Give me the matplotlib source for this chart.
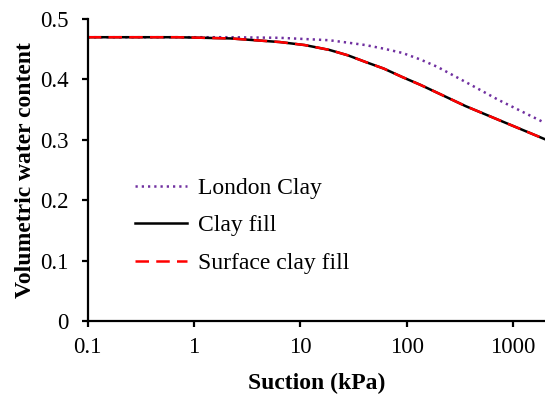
import matplotlib.pyplot as plt
from matplotlib.ticker import FixedLocator, FixedFormatter

plt.rcParams['font.family'] = ['Liberation Serif', 'DejaVu Serif']

# suction (kPa) and volumetric water content
suction = [0.1, 0.7, 2.2, 6.4, 11, 18.7, 28, 41, 61, 91, 135, 194, 357, 733, 2000]
london_clay = [0.470, 0.470, 0.470, 0.469, 0.467, 0.465, 0.461, 0.457,
               0.451, 0.444, 0.433, 0.421, 0.396, 0.366, 0.328]
clay_fill = [0.470, 0.470, 0.468, 0.462, 0.457, 0.449, 0.440, 0.429,
             0.418, 0.404, 0.391, 0.378, 0.356, 0.333, 0.301]
surface_clay_fill = [0.470, 0.470, 0.468, 0.462, 0.457, 0.449, 0.440, 0.429,
                     0.418, 0.404, 0.391, 0.378, 0.356, 0.333, 0.301]

xticks = [0.1, 1, 10, 100, 1000]
xtick_labels = ['0.1', '1', '10', '100', '1000']
yticks = [0, 0.1, 0.2, 0.3, 0.4, 0.5]
ytick_labels = ['0', '0.1', '0.2', '0.3', '0.4', '0.5']

fig = plt.figure(figsize=(5.45, 3.98), dpi=100)
ax = fig.add_axes([0.161, 0.1935, 0.839, 0.7585])

ax.plot(suction, london_clay, color='#7030A0', linestyle=(0, (0.9, 1.6)),
        linewidth=1.8, label='London Clay')
ax.plot(suction, clay_fill, color='black', linewidth=1.8, label='Clay fill')
ax.plot(suction, surface_clay_fill, color='#FF0000', linestyle=(0, (5.4, 2.9)),
        linewidth=1.8, label='Surface clay fill')

ax.set_xscale('log')
ax.set_xlim(0.1, 2000)
ax.set_ylim(0, 0.5)
ax.xaxis.set_major_locator(FixedLocator(xticks))
ax.xaxis.set_major_formatter(FixedFormatter(xtick_labels))
ax.xaxis.set_minor_locator(FixedLocator([]))
ax.set_yticks(yticks)
ax.set_yticklabels(ytick_labels)

for side in ['top', 'right']:
    ax.spines[side].set_visible(False)
for side in ['left', 'bottom']:
    ax.spines[side].set_linewidth(1.6)
ax.tick_params(axis='both', direction='out', length=4.5, width=1.6,
               labelsize=16.5)
ax.tick_params(axis='x', pad=7)
ax.tick_params(axis='y', pad=9)

ax.set_xlabel('Suction (kPa)', fontsize=17, fontweight='bold', labelpad=11)
ax.set_ylabel('Volumetric water content', fontsize=17, fontweight='bold',
              labelpad=3)

ax.legend(loc='upper left', bbox_to_anchor=(0.104, 0.476), frameon=False,
          borderpad=0, borderaxespad=0, fontsize=17, handlelength=2.2,
          handletextpad=0.45, labelspacing=0.68)

fig.savefig('out.png', dpi=100)
